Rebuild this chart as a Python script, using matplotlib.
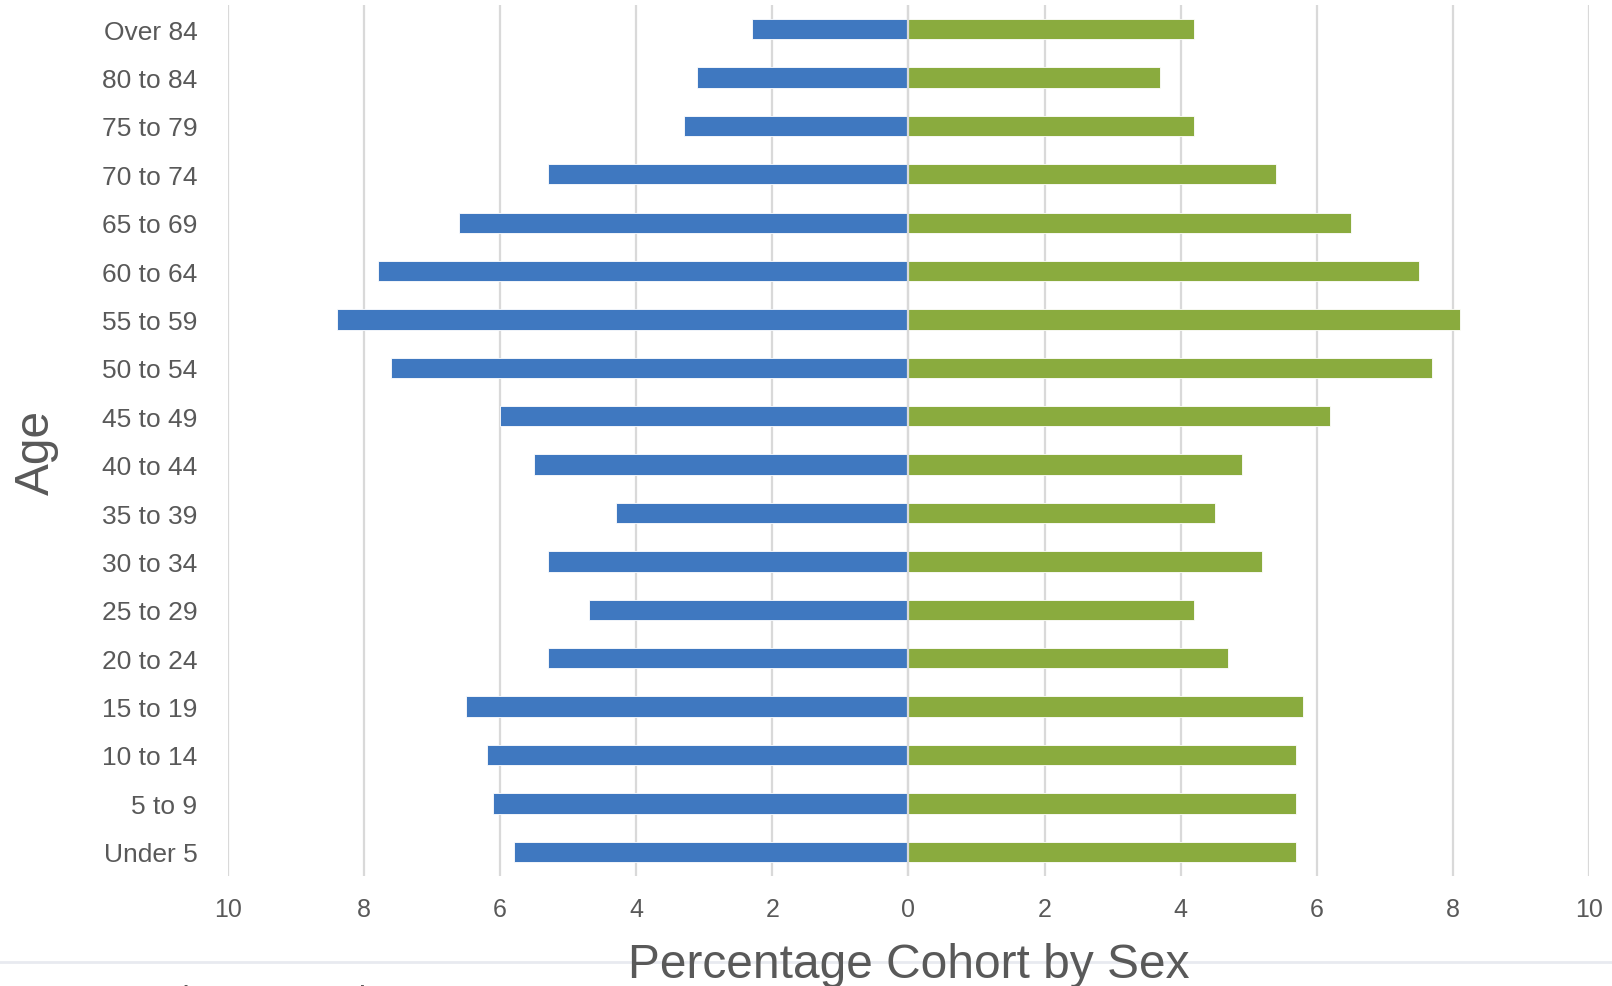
#!/usr/bin/env python3
'''population pyramid: percentage cohort by sex'''
import numpy as np
import matplotlib
matplotlib.use('Agg')
import matplotlib.pyplot as plt
from matplotlib.lines import Line2D

ages = ['Under 5', '5 to 9', '10 to 14', '15 to 19', '20 to 24', '25 to 29',
        '30 to 34', '35 to 39', '40 to 44', '45 to 49', '50 to 54', '55 to 59',
        '60 to 64', '65 to 69', '70 to 74', '75 to 79', '80 to 84', 'Over 84']
males = [5.8, 6.1, 6.2, 6.5, 5.3, 4.7, 5.3, 4.3, 5.5, 6.0, 7.6, 8.4,
         7.8, 6.6, 5.3, 3.3, 3.1, 2.3]
females = [5.7, 5.7, 5.7, 5.8, 4.7, 4.2, 5.2, 4.5, 4.9, 6.2, 7.7, 8.1,
           7.5, 6.5, 5.4, 4.2, 3.7, 4.2]
xticks = [-10, -8, -6, -4, -2, 0, 2, 4, 6, 8, 10]

BLUE = '#3f78c0'
GREEN = '#8aab3e'
TXT = '#595959'
GRID = '#d9d9d9'

plt.rcParams['font.family'] = ['Liberation Sans', 'DejaVu Sans']


def main():
    fig = plt.figure(figsize=(16.12, 9.87), dpi=100)
    ax = fig.add_axes([0.1414, 0.1115, 0.8443, 0.8825])

    y = np.arange(len(ages))
    ax.barh(y, -np.array(males), height=0.42, color=BLUE,
            edgecolor='white', linewidth=0.6, zorder=2)
    ax.barh(y, females, height=0.42, color=GREEN,
            edgecolor='white', linewidth=0.6, zorder=2)
    ax.axvline(0, color=GRID, lw=1.6, zorder=3)

    ax.set_xlim(-10, 10)
    ax.set_ylim(-0.5, len(ages) - 0.5)
    ax.set_xticks(xticks)
    ax.set_xticklabels([str(abs(t)) for t in xticks])
    ax.set_yticks(y)
    ax.set_yticklabels(ages)
    ax.tick_params(axis='both', length=0, labelcolor=TXT)
    ax.tick_params(axis='x', pad=15, labelsize=18)
    ax.tick_params(axis='y', pad=22, labelsize=19)
    ax.grid(axis='x', color=GRID, lw=1.6, zorder=0)
    ax.set_axisbelow(True)
    for s in ax.spines.values():
        s.set_visible(False)

    # separator line above the legend, which is cut off at the bottom edge
    fig.add_artist(Line2D([0, 1], [0.0243, 0.0243], transform=fig.transFigure,
                          color='#e8eaf0', lw=2, zorder=0))
    fig.text(0.5637, 0.0215, 'Percentage Cohort by Sex', fontsize=34.5,
             color=TXT, ha='center', va='center', zorder=2)
    fig.text(0.0225, 0.542, 'Age', fontsize=34.5, color=TXT, rotation=90,
             ha='center', va='center')
    fig.text(0.0856, 0.002, 'Males', fontsize=23, color=TXT, va='top')
    fig.text(0.1718, 0.002, 'Females', fontsize=23, color=TXT, va='top')

    fig.savefig('out.png', dpi=100)
    plt.close(fig)


if __name__ == "__main__":
    main()
